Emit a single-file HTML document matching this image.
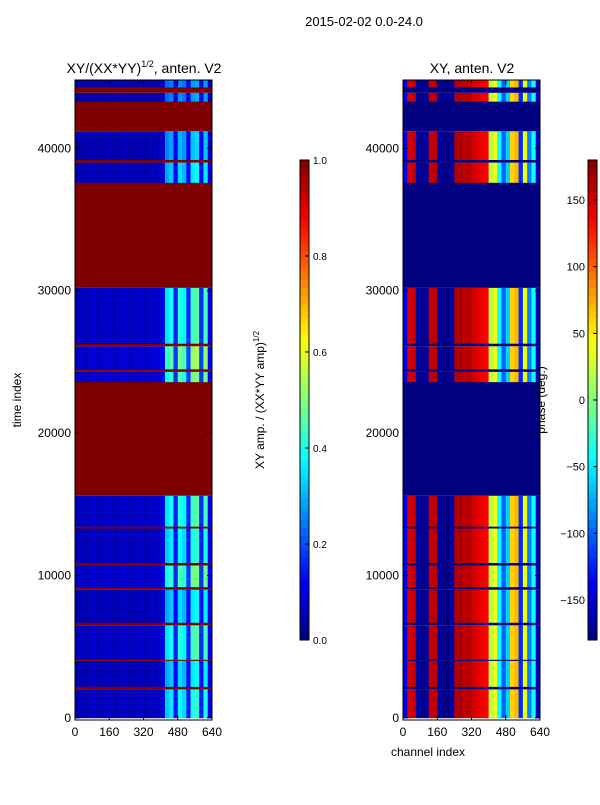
<!DOCTYPE html>
<html><head><meta charset="utf-8"><style>
body{margin:0;background:#fff;font-family:"Liberation Sans",sans-serif}
svg text{font-family:"Liberation Sans",sans-serif;fill:#000}
</style></head><body>
<svg id="fig" width="600" height="800" xmlns="http://www.w3.org/2000/svg">
<text x="364" y="26" font-size="13" text-anchor="middle">2015-02-02 0.0-24.0</text>
<text x="144" y="73" font-size="14" text-anchor="middle">XY/(XX*YY)<tspan font-size="9" dy="-6">1/2</tspan><tspan dy="6">, anten. V2</tspan></text>
<text x="472" y="73" font-size="14" text-anchor="middle">XY, anten. V2</text>
<text transform="translate(21,400) rotate(-90)" font-size="12" text-anchor="middle">time index</text>
<text x="428" y="756" font-size="12" text-anchor="middle">channel index</text>
<text transform="translate(264,400) rotate(-90)" font-size="12" text-anchor="middle">XY amp. / (XX*YY amp)<tspan font-size="8" dy="-5">1/2</tspan></text>
<g id="left"></g><g id="right"></g><g id="cb1"></g><g id="cb2"></g>
<text transform="translate(545,400) rotate(-90)" font-size="12" text-anchor="middle">phase (deg.)</text>
</svg>
<script>
// time segments: [start, end, flagged(1) or data(0), gain]
const segStart=[0,2000,2200,4000,4100,6500,6700,9000,9200,10700,10900,13300,13450,15600,23600,24300,24500,26100,26300,30200,37600,39000,39200,41200,43300,43900,44300];
const segEnd  =[2000,2200,4000,4100,6500,6700,9000,9200,10700,10900,13300,13450,15600,23600,24300,24500,26100,26300,30200,37600,39000,39200,41200,43300,43900,44300,44800];
const segFlag =[0,1,0,1,0,1,0,1,0,1,0,1,0,1,0,1,0,1,0,1,0,1,0,1,0,1,0];
const segGain =[1,1,0.9,1,1.1,1,0.9,1,1.2,1,1,1,1.1,1,1.2,1,1.3,1,1.1,1,0.9,1,0.8,1,0.7,1,0.7];
// channel bins (20 channels each)
const chanBins=[0,20,40,60,80,100,120,140,160,180,200,220,240,260,280,300,320,340,360,380,400,420,440,460,480,500,520,540,560,580,600,620,640];
const ampProfile=[0.05,0.06,0.05,0.06,0.07,0.05,0.06,0.07,0.06,0.05,0.06,0.07,0.06,0.05,0.07,0.06,0.05,0.07,0.06,0.07,0.09,0.32,0.36,0.14,0.38,0.34,0.15,0.4,0.42,0.15,0.4,0.1];
const phaseProfile=[-140,150,155,-170,-175,-170,155,160,-170,-175,-178,-170,160,165,158,162,150,145,140,135,20,40,-40,-100,-60,60,70,-120,40,-90,-40,-160];
const tMin=-150,tMax=44800,tickT=[0,10000,20000,30000,40000],tickC=[0,160,320,480,640];
const ampTicks=[0,0.2,0.4,0.6,0.8,1.0],phTicks=[-150,-100,-50,0,50,100,150];
function jet(v){v=Math.max(0,Math.min(1,v));const f=x=>Math.round(255*Math.max(0,Math.min(1,1.5-Math.abs(4*v-x))));return `rgb(${f(3)},${f(2)},${f(1)})`;}
const NS="http://www.w3.org/2000/svg";
function el(p,t,a){const e=document.createElementNS(NS,t);for(const k in a)e.setAttribute(k,a[k]);p.appendChild(e);return e;}
function panel(g,x0,kind){
 const y0=80,y1=720,w=137;
 const yS=t=>y1-(t-tMin)/(tMax-tMin)*(y1-y0), xS=c=>x0+c/640*w;
 for(let s=0;s<segStart.length;s++){
  const ya=yS(segEnd[s]),yb=yS(segStart[s]);
  if(segFlag[s]){const r=el(g,'rect',{x:x0,y:ya,width:w,height:yb-ya,fill:kind==='amp'?jet(1):jet(0)});
   
   continue;}
  for(let c=0;c<ampProfile.length;c++){
   const v=kind==='amp'?Math.min(1,ampProfile[c]*segGain[s]):(phaseProfile[c]+180)/360;
   const r=el(g,'rect',{x:xS(chanBins[c]),y:ya,width:xS(chanBins[c+1])-xS(chanBins[c])+0.3,height:yb-ya+0.3,fill:jet(v)});
   
   
  }
 }
 el(g,'rect',{x:x0,y:y0,width:w,height:y1-y0,fill:'none',stroke:'#000','stroke-width':1});
 tickT.forEach(t=>{const y=yS(t);el(g,'line',{x1:x0,x2:x0+5,y1:y,y2:y,stroke:'#000'});el(g,'line',{x1:x0+w,x2:x0+w-5,y1:y,y2:y,stroke:'#000'});
  const tx=el(g,'text',{x:x0-4,y:y+4,'font-size':12,'text-anchor':'end'});tx.textContent=t;
  });
 tickC.forEach(c=>{const x=xS(c);el(g,'line',{x1:x,x2:x,y1:y1,y2:y1-5,stroke:'#000'});el(g,'line',{x1:x,x2:x,y1:y0,y2:y0+5,stroke:'#000'});
  const tx=el(g,'text',{x:x,y:y1+16,'font-size':12,'text-anchor':'middle'});tx.textContent=c;
  });
}
function cbar(g,x0,vmin,vmax,ticks,name){
 const y0=160,y1=640,n=64;
 for(let i=0;i<n;i++){el(g,'rect',{x:x0,y:y1-(i+1)*(y1-y0)/n,width:9,height:(y1-y0)/n+0.5,fill:jet((i+0.5)/n)});}
 el(g,'rect',{x:x0,y:y0,width:9,height:y1-y0,fill:'none',stroke:'#000'});
 ticks.forEach(t=>{const y=y1-(t-vmin)/(vmax-vmin)*(y1-y0);el(g,'line',{x1:x0+9,x2:x0+5,y1:y,y2:y,stroke:'#000'});
  const tx=name==='amp'?el(g,'text',{x:x0+13,y:y+4,'font-size':10}):el(g,'text',{x:x0-3,y:y+4,'font-size':11,'text-anchor':'end'});
  tx.textContent=name==='amp'?t.toFixed(1):String(t).replace('-','\u2212');
  });
}
const L=document.getElementById('left');
const R=document.getElementById('right');
const C1=document.getElementById('cb1');
const C2=document.getElementById('cb2');
panel(L,75,'amp');panel(R,403,'phase');
cbar(C1,300,0,1,ampTicks,'amp');cbar(C2,588,-180,180,phTicks,'phase');
</script>
</body></html>
